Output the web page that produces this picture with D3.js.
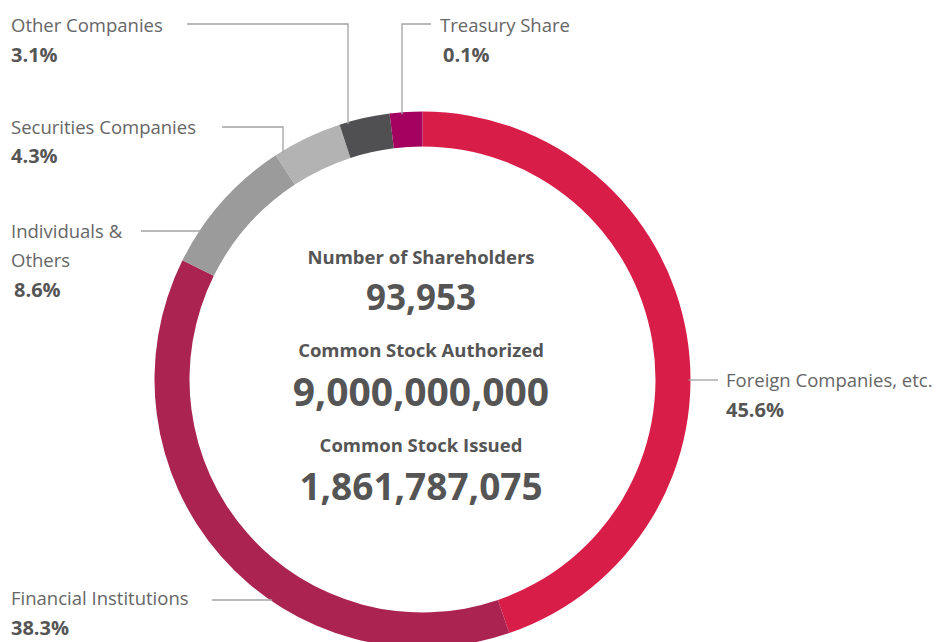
<!DOCTYPE html>
<html>
<head>
<meta charset="utf-8">
<title>Shareholder Composition</title>
<style>
body { margin: 0; background: #fff; }
text { font-family: "Open Sans", sans-serif; }
.lbl { font-size: 18.5px; fill: #666; }
.pct { font-size: 20px; font-weight: 700; fill: #555; }
.ctitle { font-size: 18.5px; font-weight: 700; fill: #555; }
.cnum { font-weight: 700; fill: #555; }
.leader { stroke: #a3a3a3; stroke-width: 1.3; fill: none; }
</style>
</head>
<body>
<svg width="941" height="642"></svg>
<script src="https://d3js.org/d3.v7.min.js"></script>
<script>

// shareholder composition (%)
var categories = ["Foreign Companies, etc.", "Financial Institutions", "Individuals & Others",
                  "Securities Companies", "Other Companies", "Treasury Share"];
var shares = [45.6, 38.3, 8.6, 4.3, 3.1, 0.1];
var colors = ["#d81e48", "#ab2451", "#9b9b9b", "#b3b3b3", "#505052", "#a3005f"];

// figures shown in the middle of the ring
var centerTitles = ["Number of Shareholders", "Common Stock Authorized", "Common Stock Issued"];
var centerValues = [93953, 9000000000, 1861787075];

var svg = d3.select("svg"),
    width = +svg.attr("width"),
    height = +svg.attr("height");

var cx = 422.5, cy = 379.5,
    outerR = 268, innerR = 233;

// tiny slices get a minimum visible share, like in the printed chart
var minShare = 2;

var pie = d3.pie()
    .sort(null)
    .value(function(d) { return Math.max(d.value, minShare); });

var arc = d3.arc()
    .innerRadius(innerR)
    .outerRadius(outerR);

var slices = categories.map(function(c, i) {
  return { name: c, value: shares[i], color: colors[i] };
});

var g = svg.append("g")
    .attr("transform", "translate(" + cx + "," + cy + ")");

// label placement: text anchor + leader route
// type "h": horizontal leader at y from x0 to the ring
// type "v": horizontal from x0 to bend x, then straight down to the ring
var labelLayout = [
  { x: 726, y: 387, lines: ["Foreign Companies, etc."], type: "h", ly: 380, x0: 718 },
  { x: 11, y: 605, lines: ["Financial Institutions"], type: "h", ly: 600, x0: 212 },
  { x: 11, y: 237.5, lines: ["Individuals &", "Others"], type: "h", ly: 231, x0: 141, pctDx: 3 },
  { x: 11, y: 133.5, lines: ["Securities Companies"], type: "v", ly: 127, x0: 222, bx: 283 },
  { x: 11, y: 32, lines: ["Other Companies"], type: "v", ly: 24, x0: 187, bx: 348 },
  { x: 440, y: 32, lines: ["Treasury Share"], type: "v", ly: 24, x0: 431, bx: 402, pctDx: 3 }
];

var fmtPct = function(v) { return d3.format(".1f")(v) + "%"; };

// leader lines (drawn under the ring)
var leaders = svg.append("g");
labelLayout.forEach(function(l, i) {
  var pts;
  if (l.type === "h") {
    var dy = l.ly - cy;
    var dx = Math.sqrt(outerR * outerR - dy * dy);
    var ringX = l.x0 > cx ? cx + dx - 2 : cx - dx + 2;
    pts = [[l.x0, l.ly], [ringX, l.ly]];
  } else {
    var ddx = l.bx - cx;
    var ringY = cy - Math.sqrt(outerR * outerR - ddx * ddx) + 2;
    pts = [[l.x0, l.ly], [l.bx, l.ly], [l.bx, ringY]];
  }
  leaders.append("path")
      .attr("class", "leader")
      .attr("d", d3.line()(pts));
});

g.selectAll("path.slice")
    .data(pie(slices))
    .enter().append("path")
      .attr("class", "slice")
      .attr("d", arc)
      .attr("fill", function(d) { return d.data.color; });

// category labels
var labels = svg.append("g");
labelLayout.forEach(function(l, i) {
  var t = labels.append("text").attr("class", "lbl");
  l.lines.forEach(function(s, k) {
    t.append("tspan")
        .attr("x", l.x)
        .attr("y", l.y + k * 29.5)
        .text(s);
  });
  labels.append("text")
      .attr("class", "pct")
      .attr("x", l.x + (l.pctDx || 0))
      .attr("y", l.y + l.lines.length * 29.5)
      .text(fmtPct(shares[i]));
});

// center block
var fmtNum = d3.format(",");
var titleY = [264, 357, 452];
var valueY = [310, 406, 500];
var valueSize = [35, 39, 37];
var center = svg.append("g");
centerTitles.forEach(function(t, i) {
  center.append("text")
      .attr("class", "ctitle")
      .attr("x", 421)
      .attr("y", titleY[i])
      .attr("text-anchor", "middle")
      .text(t);
  center.append("text")
      .attr("class", "cnum")
      .attr("x", 421)
      .attr("y", valueY[i])
      .attr("text-anchor", "middle")
      .style("font-size", valueSize[i] + "px")
      .text(fmtNum(centerValues[i]));
});

</script>
</body>
</html>
